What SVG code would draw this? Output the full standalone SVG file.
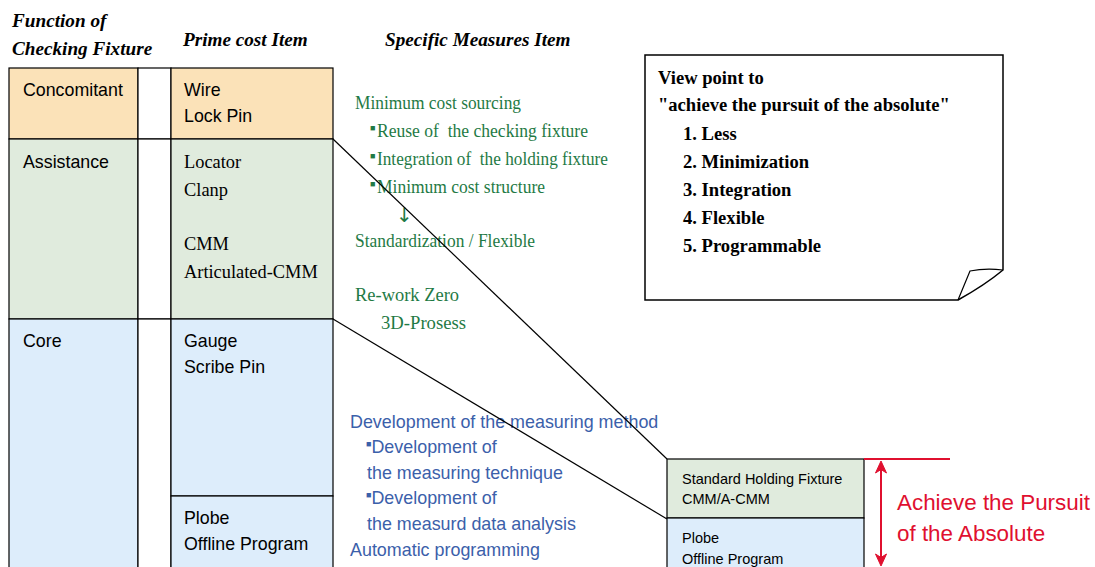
<svg xmlns="http://www.w3.org/2000/svg" width="1095" height="567" viewBox="0 0 1095 567">
<defs>
<style>
.hdr{font-family:"Liberation Serif",serif;font-weight:bold;font-style:italic;font-size:19.2px;fill:#000}
.cell{stroke:#000;stroke-width:1.2}
.or{fill:#fbe2b8}
.gr{fill:#e0ebdd}
.bl{fill:#ddedfb}
.wh{fill:#fff}
.ts{font-family:"Liberation Sans",sans-serif;font-size:17.8px;fill:#000}
.tr{font-family:"Liberation Serif",serif;font-size:18.4px;fill:#000}
.gt{font-family:"Liberation Serif",serif;font-size:19.5px;fill:#1f7a45;white-space:pre}
.bt{font-family:"Liberation Sans",sans-serif;font-size:17.9px;fill:#3b60aa}
.bul{font-size:9px}
.nt{font-family:"Liberation Serif",serif;font-weight:bold;font-size:18.6px;fill:#000}
.sm{font-family:"Liberation Sans",sans-serif;font-size:14.5px;fill:#000}
.red{font-family:"Liberation Sans",sans-serif;font-size:22.4px;fill:#e0102f}
.conn{stroke:#000;stroke-width:1.2;fill:none}
</style>
</defs>
<rect x="0" y="0" width="1095" height="567" fill="#fff"/>

<g id="headers">
<text class="hdr" x="12" y="27">Function of</text>
<text class="hdr" x="12" y="55">Checking Fixture</text>
<text class="hdr" x="183" y="46">Prime cost Item</text>
<text class="hdr" x="385" y="46">Specific Measures Item</text>
</g>

<g id="node-concomitant">
<rect class="cell or" x="9" y="68" width="129" height="71"/>
<text class="ts" x="23" y="96">Concomitant</text>
</g>
<g id="node-assistance">
<rect class="cell gr" x="9" y="139" width="129" height="180"/>
<text class="ts" x="23" y="168">Assistance</text>
</g>
<g id="node-core">
<rect class="cell bl" x="9" y="319" width="129" height="260"/>
<text class="ts" x="23" y="347">Core</text>
</g>
<g id="gap-column">
<rect class="cell wh" x="138" y="68" width="33" height="71"/>
<rect class="cell wh" x="138" y="139" width="33" height="180"/>
<rect class="cell wh" x="138" y="319" width="33" height="260"/>
</g>
<g id="node-wire">
<rect class="cell or" x="171" y="68" width="162" height="71"/>
<text class="ts" x="184" y="96">Wire</text>
<text class="ts" x="184" y="122">Lock Pin</text>
</g>
<g id="node-locator">
<rect class="cell gr" x="171" y="139" width="162" height="180"/>
<text class="tr" x="184" y="168">Locator</text>
<text class="tr" x="184" y="196">Clanp</text>
<text class="tr" x="184" y="250">CMM</text>
<text class="tr" x="184" y="278">Articulated-CMM</text>
</g>
<g id="node-gauge">
<rect class="cell bl" x="171" y="319" width="162" height="177"/>
<text class="ts" x="184" y="347">Gauge</text>
<text class="ts" x="184" y="373">Scribe Pin</text>
</g>
<g id="node-plobe">
<rect class="cell bl" x="171" y="496" width="162" height="83"/>
<text class="ts" x="184" y="524">Plobe</text>
<text class="ts" x="184" y="550">Offline Program</text>
</g>

<g id="green-measures">
<text class="gt" x="355" y="109" textLength="166" lengthAdjust="spacingAndGlyphs">Minimum cost sourcing</text>
<text class="gt" x="370" y="137"><tspan class="bul" dy="-6">■</tspan><tspan x="377" dy="6" textLength="211" lengthAdjust="spacingAndGlyphs">Reuse of  the checking fixture</tspan></text>
<text class="gt" x="370" y="165"><tspan class="bul" dy="-6">■</tspan><tspan x="377" dy="6" textLength="231" lengthAdjust="spacingAndGlyphs">Integration of  the holding fixture</tspan></text>
<text class="gt" x="370" y="193"><tspan class="bul" dy="-6">■</tspan><tspan x="377" dy="6" textLength="168" lengthAdjust="spacingAndGlyphs">Minimum cost structure</tspan></text>
<text x="396" y="222" style="font-family:'DejaVu Sans',sans-serif;font-size:20px;fill:#1f7a45">↓</text>
<text class="gt" x="355" y="247" textLength="180" lengthAdjust="spacingAndGlyphs">Standardization / Flexible</text>
<text class="gt" x="355" y="301" textLength="104" lengthAdjust="spacingAndGlyphs">Re-work Zero</text>
<text class="gt" x="381" y="329" textLength="85" lengthAdjust="spacingAndGlyphs">3D-Prosess</text>
</g>

<g id="blue-measures">
<text class="bt" x="350" y="428">Development of the measuring method</text>
<text class="bt" x="366" y="453"><tspan class="bul" dy="-6">■</tspan><tspan dy="6">Development of</tspan></text>
<text class="bt" x="367" y="479">the measuring technique</text>
<text class="bt" x="366" y="504"><tspan class="bul" dy="-6">■</tspan><tspan dy="6">Development of</tspan></text>
<text class="bt" x="367" y="530">the measurd data analysis</text>
<text class="bt" x="350" y="556">Automatic programming</text>
</g>

<g id="node-viewpoint">
<path d="M645,55 L1003,55 L1003,270 Q985,285 958,300 L645,300 Z" fill="#fff" stroke="#000" stroke-width="1.5"/>
<path d="M1003,270 Q985,268 970,271 L958,300" fill="none" stroke="#000" stroke-width="1.2"/>
<text class="nt" x="658" y="84">View point to</text>
<text class="nt" x="658" y="111">"achieve the pursuit of the absolute"</text>
<text class="nt" x="683" y="140">1. Less</text>
<text class="nt" x="683" y="168">2. Minimization</text>
<text class="nt" x="683" y="196">3. Integration</text>
<text class="nt" x="683" y="224">4. Flexible</text>
<text class="nt" x="683" y="252">5. Programmable</text>
</g>

<g id="node-standard">
<rect class="cell gr" x="667" y="459" width="197" height="59"/>
<text class="sm" x="682" y="484">Standard Holding Fixture</text>
<text class="sm" x="682" y="504">CMM/A-CMM</text>
</g>
<g id="node-plobe2">
<rect class="cell bl" x="667" y="518" width="197" height="60"/>
<text class="sm" x="682" y="543">Plobe</text>
<text class="sm" x="682" y="564">Offline Program</text>
</g>

<g id="connectors">
<line class="conn" x1="333" y1="139" x2="667" y2="459"/>
<line class="conn" x1="333" y1="319" x2="667" y2="519"/>
<line x1="864" y1="459" x2="950" y2="459" stroke="#e0102f" stroke-width="2"/>
<line x1="881" y1="466" x2="881" y2="560" stroke="#e0102f" stroke-width="2"/>
<path d="M881,461 L875.5,473 L881,469.5 L886.5,473 Z" fill="#e0102f" stroke="#e0102f" stroke-width="1"/>
<path d="M881,566 L875.5,554 L881,557.5 L886.5,554 Z" fill="#e0102f" stroke="#e0102f" stroke-width="1"/>
</g>

<g id="label-achieve">
<text class="red" x="897" y="510">Achieve the Pursuit</text>
<text class="red" x="897" y="541">of the Absolute</text>
</g>
</svg>
